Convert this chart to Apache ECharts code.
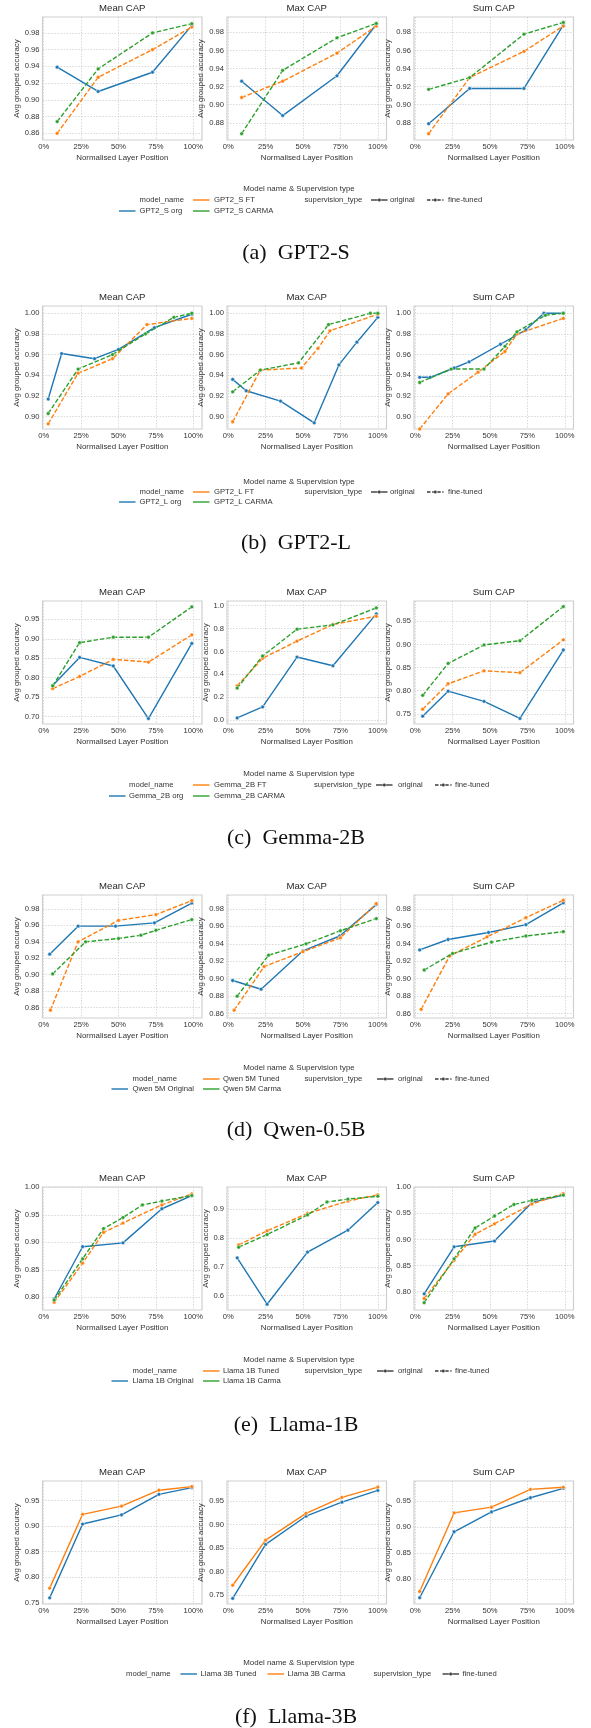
<!DOCTYPE html>
<html><head><meta charset="utf-8">
<script src="https://cdn.jsdelivr.net/npm/echarts@6/dist/echarts.min.js"></script>
<style>html,body{margin:0;padding:0;background:#fff}#c{width:591px;height:1728px}</style>
</head><body><div id="c"></div>
<script>
// ---------------- DATA ----------------
const capTypes = ['Mean CAP', 'Max CAP', 'Sum CAP'];
const xTickValues = [0, 0.25, 0.5, 0.75, 1];
const captions = ['(a)  GPT2-S', '(b)  GPT2-L', '(c)  Gemma-2B', '(d)  Qwen-0.5B', '(e)  Llama-1B', '(f)  Llama-3B'];
const modelNamesA = ['GPT2_S org', 'GPT2_S FT', 'GPT2_S CARMA'];
const modelNamesB = ['GPT2_L org', 'GPT2_L FT', 'GPT2_L CARMA'];
const modelNamesC = ['Gemma_2B org', 'Gemma_2B FT', 'Gemma_2B CARMA'];
const modelNamesD = ['Qwen 5M Original', 'Qwen 5M Tuned', 'Qwen 5M Carma'];
const modelNamesE = ['Llama 1B Original', 'Llama 1B Tuned', 'Llama 1B Carma'];
const modelNamesF = ['Llama 3B Tuned', 'Llama 3B Carma'];
const supTypesAE = ['original', 'fine-tuned'];
const supTypesF = ['fine-tuned'];
const seriesSupAE = ['original', 'fine-tuned', 'fine-tuned'];
const seriesSupF = ['fine-tuned', 'fine-tuned'];

// (a) GPT2-S
const a_mean_org   = [[0.09,0.939],[0.364,0.910],[0.727,0.933],[0.99,0.989]];
const a_mean_ft    = [[0.09,0.860],[0.364,0.927],[0.727,0.960],[0.99,0.987]];
const a_mean_carma = [[0.09,0.874],[0.364,0.937],[0.727,0.980],[0.99,0.991]];
const a_max_org    = [[0.09,0.926],[0.364,0.888],[0.727,0.932],[0.99,0.989]];
const a_max_ft     = [[0.09,0.908],[0.364,0.926],[0.727,0.957],[0.99,0.987]];
const a_max_carma  = [[0.09,0.868],[0.364,0.938],[0.727,0.974],[0.99,0.990]];
const a_sum_org    = [[0.09,0.879],[0.364,0.918],[0.727,0.918],[0.99,0.988]];
const a_sum_ft     = [[0.09,0.868],[0.364,0.930],[0.727,0.959],[0.99,0.987]];
const a_sum_carma  = [[0.09,0.917],[0.364,0.930],[0.727,0.978],[0.99,0.991]];
// (b) GPT2-L
const b_mean_org   = [[0.03,0.917],[0.12,0.961],[0.34,0.956],[0.50,0.965],[0.74,0.986],[0.99,0.999]];
const b_mean_ft    = [[0.03,0.893],[0.23,0.942],[0.46,0.956],[0.69,0.989],[0.99,0.995]];
const b_mean_carma = [[0.03,0.903],[0.23,0.946],[0.46,0.960],[0.68,0.980],[0.87,0.996],[0.99,1.000]];
const b_max_org    = [[0.03,0.936],[0.12,0.925],[0.35,0.915],[0.575,0.894],[0.74,0.950],[0.86,0.972],[1.0,0.996]];
const b_max_ft     = [[0.03,0.895],[0.215,0.945],[0.49,0.947],[0.60,0.966],[0.68,0.983],[1.0,0.999]];
const b_max_carma  = [[0.03,0.924],[0.215,0.945],[0.47,0.952],[0.67,0.989],[0.95,1.000],[1.0,1.000]];
const b_sum_org    = [[0.03,0.938],[0.10,0.938],[0.26,0.947],[0.36,0.953],[0.57,0.970],[0.74,0.984],[0.86,1.000],[0.99,1.000]];
const b_sum_ft     = [[0.03,0.888],[0.22,0.922],[0.42,0.943],[0.60,0.963],[0.68,0.980],[0.99,0.995]];
const b_sum_carma  = [[0.03,0.933],[0.24,0.946],[0.46,0.946],[0.60,0.968],[0.68,0.982],[0.87,0.998],[0.99,1.000]];
// (c) Gemma-2B
const c_mean_org   = [[0.06,0.780],[0.24,0.852],[0.465,0.830],[0.70,0.695],[0.99,0.888]];
const c_mean_ft    = [[0.06,0.772],[0.24,0.803],[0.465,0.847],[0.70,0.840],[0.99,0.910]];
const c_mean_carma = [[0.06,0.779],[0.24,0.890],[0.465,0.904],[0.70,0.904],[0.99,0.982]];
const c_max_org    = [[0.06,0.020],[0.23,0.116],[0.46,0.551],[0.70,0.475],[0.99,0.928]];
const c_max_ft     = [[0.06,0.300],[0.23,0.540],[0.46,0.690],[0.70,0.835],[0.99,0.907]];
const c_max_carma  = [[0.06,0.280],[0.23,0.560],[0.46,0.794],[0.70,0.832],[0.99,0.980]];
const c_sum_org    = [[0.05,0.745],[0.22,0.799],[0.46,0.777],[0.70,0.740],[0.99,0.888]];
const c_sum_ft     = [[0.05,0.760],[0.22,0.815],[0.46,0.843],[0.70,0.839],[0.99,0.910]];
const c_sum_carma  = [[0.05,0.790],[0.22,0.859],[0.46,0.899],[0.70,0.908],[0.99,0.982]];
// (d) Qwen-0.5B
const d_mean_org   = [[0.04,0.925],[0.23,0.959],[0.48,0.959],[0.74,0.963],[0.99,0.987]];
const d_mean_ft    = [[0.045,0.857],[0.23,0.940],[0.50,0.966],[0.75,0.973],[0.99,0.990]];
const d_mean_carma = [[0.06,0.901],[0.28,0.940],[0.50,0.944],[0.65,0.948],[0.75,0.954],[0.99,0.967]];
const d_max_org    = [[0.03,0.898],[0.22,0.888],[0.50,0.932],[0.745,0.949],[0.99,0.985]];
const d_max_ft     = [[0.04,0.864],[0.24,0.914],[0.50,0.931],[0.75,0.947],[0.99,0.986]];
const d_max_carma  = [[0.06,0.880],[0.27,0.927],[0.52,0.940],[0.75,0.955],[0.99,0.969]];
const d_sum_org    = [[0.03,0.933],[0.22,0.945],[0.49,0.953],[0.74,0.962],[0.99,0.987]];
const d_sum_ft     = [[0.04,0.865],[0.23,0.926],[0.48,0.948],[0.74,0.970],[0.99,0.990]];
const d_sum_carma  = [[0.06,0.910],[0.25,0.929],[0.51,0.942],[0.74,0.949],[0.99,0.954]];
// (e) Llama-1B
const e_mean_org   = [[0.07,0.797],[0.26,0.892],[0.53,0.899],[0.79,0.961],[0.99,0.985]];
const e_mean_ft    = [[0.07,0.791],[0.26,0.862],[0.40,0.918],[0.53,0.935],[0.79,0.968],[0.99,0.988]];
const e_mean_carma = [[0.07,0.795],[0.26,0.870],[0.40,0.925],[0.53,0.945],[0.66,0.968],[0.79,0.975],[0.99,0.985]];
const e_max_org    = [[0.06,0.731],[0.26,0.570],[0.53,0.751],[0.80,0.827],[1.0,0.923]];
const e_max_ft     = [[0.07,0.776],[0.26,0.825],[0.53,0.885],[0.80,0.928],[1.0,0.950]];
const e_max_carma  = [[0.07,0.768],[0.26,0.812],[0.53,0.880],[0.66,0.925],[0.80,0.935],[1.0,0.945]];
const e_sum_org    = [[0.06,0.796],[0.26,0.886],[0.53,0.897],[0.78,0.971],[0.99,0.985]];
const e_sum_ft     = [[0.06,0.787],[0.26,0.860],[0.40,0.910],[0.53,0.930],[0.78,0.968],[0.99,0.988]];
const e_sum_carma  = [[0.06,0.779],[0.26,0.863],[0.40,0.922],[0.53,0.945],[0.66,0.967],[0.78,0.975],[0.99,0.985]];
// (f) Llama-3B
const f_mean_tuned = [[0.04,0.760],[0.26,0.904],[0.52,0.922],[0.77,0.962],[0.99,0.975]];
const f_mean_carma = [[0.04,0.779],[0.26,0.923],[0.52,0.939],[0.77,0.970],[0.99,0.977]];
const f_max_tuned  = [[0.03,0.743],[0.25,0.858],[0.52,0.918],[0.76,0.948],[1.0,0.973]];
const f_max_carma  = [[0.03,0.771],[0.25,0.867],[0.52,0.924],[0.76,0.958],[1.0,0.980]];
const f_sum_tuned  = [[0.03,0.765],[0.26,0.891],[0.51,0.929],[0.77,0.956],[0.99,0.974]];
const f_sum_carma  = [[0.03,0.777],[0.26,0.927],[0.51,0.938],[0.77,0.972],[0.99,0.976]];

// y tick labels per panel
const yTicks_a = [[0.86,0.88,0.90,0.92,0.94,0.96,0.98],[0.88,0.90,0.92,0.94,0.96,0.98],[0.88,0.90,0.92,0.94,0.96,0.98]];
const yTicks_b = [[0.90,0.92,0.94,0.96,0.98,1.00],[0.90,0.92,0.94,0.96,0.98,1.00],[0.90,0.92,0.94,0.96,0.98,1.00]];
const yTicks_c = [[0.70,0.75,0.80,0.85,0.90,0.95],[0.0,0.2,0.4,0.6,0.8,1.0],[0.75,0.80,0.85,0.90,0.95]];
const yTicks_d = [[0.86,0.88,0.90,0.92,0.94,0.96,0.98],[0.86,0.88,0.90,0.92,0.94,0.96,0.98],[0.86,0.88,0.90,0.92,0.94,0.96,0.98]];
const yTicks_e = [[0.80,0.85,0.90,0.95,1.00],[0.6,0.7,0.8,0.9],[0.80,0.85,0.90,0.95,1.00]];
const yTicks_f = [[0.75,0.80,0.85,0.90,0.95],[0.75,0.80,0.85,0.90,0.95],[0.80,0.85,0.90,0.95]];
const yDecimals = [[2,2,2],[2,2,2],[2,1,2],[2,2,2],[2,1,2],[2,2,2]];
// axis ranges per panel
const yRange = [
  [[0.852,0.999],[0.861,0.997],[0.861,0.997]],
  [[0.888,1.007],[0.888,1.007],[0.888,1.007]],
  [[0.681,0.997],[-0.033,1.04],[0.728,0.994]],
  [[0.8475,0.9968],[0.855,0.996],[0.855,0.996]],
  [[0.777,1.0005],[0.55,0.977],[0.765,1.0005]],
  [[0.748,0.988],[0.731,0.993],[0.753,0.988]]
];
const xRange = [-0.008, 1.058];

// ---------------- ASSEMBLY ----------------
const rowsSeries = [
  [[a_mean_org,a_mean_ft,a_mean_carma],[a_max_org,a_max_ft,a_max_carma],[a_sum_org,a_sum_ft,a_sum_carma]],
  [[b_mean_org,b_mean_ft,b_mean_carma],[b_max_org,b_max_ft,b_max_carma],[b_sum_org,b_sum_ft,b_sum_carma]],
  [[c_mean_org,c_mean_ft,c_mean_carma],[c_max_org,c_max_ft,c_max_carma],[c_sum_org,c_sum_ft,c_sum_carma]],
  [[d_mean_org,d_mean_ft,d_mean_carma],[d_max_org,d_max_ft,d_max_carma],[d_sum_org,d_sum_ft,d_sum_carma]],
  [[e_mean_org,e_mean_ft,e_mean_carma],[e_max_org,e_max_ft,e_max_carma],[e_sum_org,e_sum_ft,e_sum_carma]],
  [[f_mean_tuned,f_mean_carma],[f_max_tuned,f_max_carma],[f_sum_tuned,f_sum_carma]]
];
const rowsNames = [modelNamesA, modelNamesB, modelNamesC, modelNamesD, modelNamesE, modelNamesF];
const rowsSupTypes = [supTypesAE, supTypesAE, supTypesAE, supTypesAE, supTypesAE, supTypesF];
const rowsSeriesSup = [seriesSupAE, seriesSupAE, seriesSupAE, seriesSupAE, seriesSupAE, seriesSupF];
const rowsYTicks = [yTicks_a, yTicks_b, yTicks_c, yTicks_d, yTicks_e, yTicks_f];

const palette = ['#1f77b4', '#ff7f0e', '#2ca02c'];
const FONT = '"Liberation Sans", Arial, sans-serif';
const TXT = '#333333';
const rowTop = [17, 306, 601, 895, 1187, 1481];
const colLeft = [42.5, 227, 414];
const W = 159.5, H = 123;
const DASH = [4.5, 2];
const TICK_FS = 7.6, NAME_FS = 7.9, TITLE_FS = 9.6, LEG_FS = 7.7;

const grids = [], xAxes = [], yAxes = [], series = [], graphics = [];

rowsSeries.forEach((row, r) => {
  row.forEach((panel, c) => {
    const idx = r * 3 + c;
    const ticks = rowsYTicks[r][c];
    const dec = yDecimals[r][c];
    grids.push({left: colLeft[c], top: rowTop[r], width: W, height: H, show: true,
      borderColor: '#cfcfcf', borderWidth: 1.2, backgroundColor: '#ffffff', containLabel: false});
    xAxes.push({type: 'value', gridIndex: idx, min: xRange[0], max: xRange[1],
      name: 'Normalised Layer Position', nameLocation: 'middle', nameGap: 14,
      nameTextStyle: {fontSize: NAME_FS, color: TXT, fontFamily: FONT},
      axisLine: {show: false}, axisTick: {show: false, customValues: xTickValues},
      axisLabel: {customValues: xTickValues, margin: 3, fontSize: TICK_FS, color: TXT, fontFamily: FONT,
        formatter: v => Math.round(v * 100) + '%'},
      splitLine: {show: true, lineStyle: {color: '#cfcfcf', width: 0.8, type: [1.5, 1.5]}}});
    yAxes.push({type: 'value', gridIndex: idx, min: yRange[r][c][0], max: yRange[r][c][1],
      name: 'Avg grouped accuracy', nameLocation: 'middle', nameGap: dec === 1 ? 14.5 : 18,
      nameTextStyle: {fontSize: NAME_FS, color: TXT, fontFamily: FONT},
      axisLine: {show: false}, axisTick: {show: false, customValues: ticks},
      axisLabel: {customValues: ticks, margin: 3, fontSize: TICK_FS, color: TXT, fontFamily: FONT,
        formatter: v => v.toFixed(dec)},
      splitLine: {show: true, lineStyle: {color: '#cfcfcf', width: 0.8, type: [1.5, 1.5]}}});
    panel.forEach((data, s) => {
      const sup = rowsSeriesSup[r][s];
      const dashed = rowsSupTypes[r].indexOf(sup) === 1;
      series.push({type: 'line', xAxisIndex: idx, yAxisIndex: idx, data: data,
        name: rowsNames[r][s], symbol: 'circle', symbolSize: 3.8, showSymbol: true, showAllSymbol: true,
        lineStyle: {color: palette[s], width: 1.4, type: dashed ? DASH : 'solid'},
        itemStyle: {color: palette[s], borderColor: '#ffffff', borderWidth: 0.5},
        z: 2 + s, animation: false, silent: true, clip: false});
    });
    graphics.push({type: 'text', x: colLeft[c] + W / 2, y: rowTop[r] - 8.5, silent: true,
      style: {text: capTypes[c], fontSize: TITLE_FS, fontFamily: FONT, fill: '#262626', align: 'center', verticalAlign: 'middle'}});
  });
});

// ---------------- LEGENDS ----------------
const HL = 16.5;
function gText(x, y, text, size, align) {
  graphics.push({type: 'text', x: x, y: y, silent: true,
    style: {text: text, fontSize: size || LEG_FS, fontFamily: FONT, fill: TXT, align: align || 'left', verticalAlign: 'middle'}});
}
function gHandle(x, y, color, dashed, marker) {
  graphics.push({type: 'line', silent: true, shape: {x1: x, y1: y, x2: x + HL, y2: y},
    style: {stroke: color, lineWidth: 1.4, lineDash: dashed ? [3.5, 1.6] : null}});
  if (marker) graphics.push({type: 'circle', silent: true, shape: {cx: x + HL / 2, cy: y, r: 1.7},
    style: {fill: color, stroke: '#fff', lineWidth: 0.4}});
}
const legendLayouts = [
  {t: 189, y1: 200, y2: 211, A: [119, 139.5], B: [193, 214], C: 304.5, D: [371, 390], E: [427, 448]},
  {t: 482, y1: 492, y2: 502, A: [119, 139.5], B: [193, 214], C: 304.5, D: [371, 390], E: [427, 448]},
  {t: 774, y1: 785, y2: 796, A: [109, 129], B: [193, 214], C: 314, D: [376, 398], E: [435, 455]},
  {t: 1068, y1: 1079, y2: 1089, A: [111.5, 132.5], B: [203, 223], C: 304.5, D: [377, 398], E: [435, 455]},
  {t: 1360, y1: 1371, y2: 1381, A: [111.5, 132.5], B: [203, 223], C: 304.5, D: [377, 398], E: [435, 455]}
];
const legendTitleX = 299;
legendLayouts.forEach((L, r) => {
  const names = rowsNames[r], sups = rowsSupTypes[r];
  gText(legendTitleX, L.t, 'Model name & Supervision type', 7.9, 'center');
  gText(L.A[1], L.y1, 'model_name');
  gHandle(L.A[0], L.y2, palette[0], false, false); gText(L.A[1], L.y2, names[0]);
  gHandle(L.B[0], L.y1, palette[1], false, false); gText(L.B[1], L.y1, names[1]);
  gHandle(L.B[0], L.y2, palette[2], false, false); gText(L.B[1], L.y2, names[2]);
  gText(L.C, L.y1, 'supervision_type');
  gHandle(L.D[0], L.y1, '#3a3a3a', false, true); gText(L.D[1], L.y1, sups[0]);
  gHandle(L.E[0], L.y1, '#3a3a3a', true, true); gText(L.E[1], L.y1, sups[1]);
});
// row f legend (single line)
(function () {
  const y = 1674, names = rowsNames[5], sups = rowsSupTypes[5];
  gText(legendTitleX, 1663, 'Model name & Supervision type', 7.9, 'center');
  gText(126, y, 'model_name');
  gHandle(180.5, y, palette[0], false, false); gText(200.5, y, names[0]);
  gHandle(267.5, y, palette[1], false, false); gText(287.5, y, names[1]);
  gText(373.5, y, 'supervision_type');
  gHandle(442.5, y, '#3a3a3a', false, true); gText(462.5, y, sups[0]);
})();

// captions
const captionY = [253, 543, 838, 1130, 1425, 1717];
captions.forEach((t, i) => {
  graphics.push({type: 'text', x: 296, y: captionY[i], silent: true,
    style: {text: t, fontSize: 22, fontFamily: '"Liberation Serif", "Times New Roman", serif', fill: '#111', align: 'center', verticalAlign: 'middle'}});
});

const chart = echarts.init(document.getElementById('c'), null, {renderer: 'canvas'});
chart.setOption({
  animation: false,
  backgroundColor: '#ffffff',
  textStyle: {fontFamily: FONT},
  grid: grids, xAxis: xAxes, yAxis: yAxes, series: series, graphic: graphics
});
</script></body></html>
